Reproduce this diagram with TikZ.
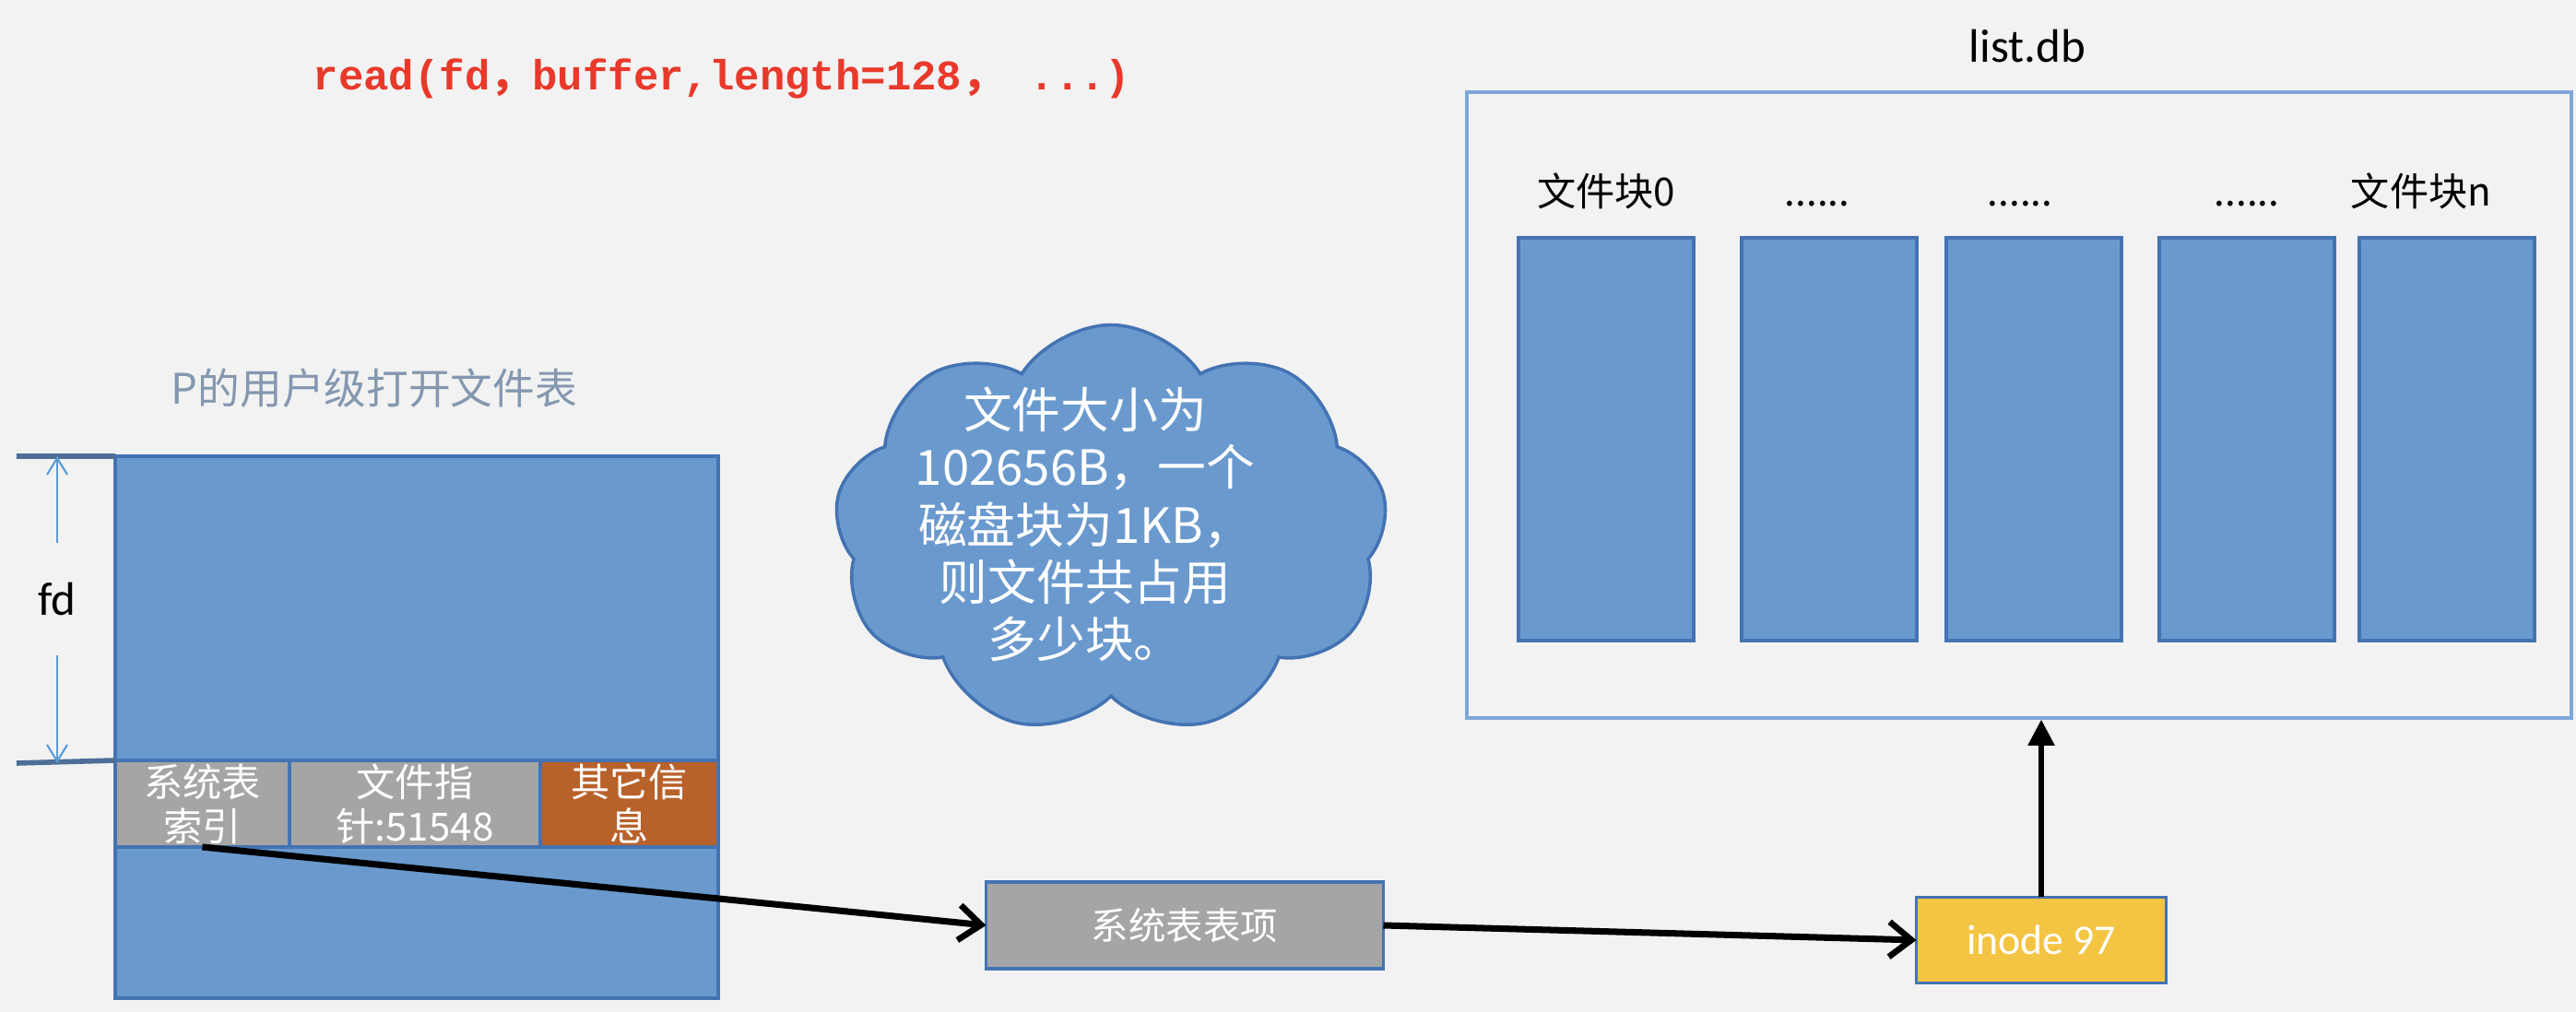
\documentclass[tikz,border=0pt]{standalone}
\usepackage{fontspec}
\setmainfont{Carlito}
\newfontfamily\cjk{Noto Sans CJK SC}
\newfontfamily\codefont{Liberation Mono}
\usetikzlibrary{arrows.meta, positioning, shapes.symbols, calc}

\definecolor{bgcol}{HTML}{F2F2F2}
\definecolor{blkfill}{HTML}{6A99CE}
\definecolor{blkdraw}{HTML}{4473B3}
\definecolor{cellgray}{HTML}{A5A5A5}
\definecolor{cellorange}{HTML}{B8612B}
\definecolor{inodegold}{HTML}{F4C443}
\definecolor{codered}{HTML}{E8392B}
\definecolor{ptitle}{HTML}{8497B0}
\definecolor{fdline}{HTML}{4D6E96}
\definecolor{dimblue}{HTML}{5B9BD5}
\definecolor{listdraw}{HTML}{7EA6D8}

\begin{document}
\begin{tikzpicture}[
  node distance=0.3cm and 0.4cm,
  blk/.style    ={draw=blkdraw, fill=blkfill, line width=1pt, inner sep=0pt, outer sep=0pt},
  fblock/.style ={blk, minimum width=1.9cm, minimum height=4.37cm},
  cell/.style   ={draw=blkdraw, line width=1pt, inner sep=0pt, outer sep=0pt,
                  minimum height=0.94cm, align=center, text=white,
                  font=\cjk\fontsize{12}{13.7}\selectfont},
  lbl/.style    ={font=\cjk\fontsize{12}{14}\selectfont, text height=1.6ex, text depth=0.3ex, inner sep=0pt},
  arr/.style    ={-{Straight Barb[length=2.4mm,width=3.8mm,line width=1.9pt]}, line width=2pt},
  uparr/.style  ={-{Triangle[length=2.8mm,width=2.8mm]}, line width=1.5pt},
  dimarr/.style ={-{Straight Barb[length=1.8mm,width=2.2mm]}, dimblue, line width=0.6pt},
  fdrule/.style ={fdline, line width=1.6pt},
]

\useasboundingbox[fill=bgcol] (0,0) rectangle (27.94,-10.98);

%% ---- Call ----
\node[font=\codefont\bfseries\fontsize{13}{15}\selectfont, text=codered] (call) at (7.83,-0.85)
  {read(fd{\cjk ，}buffer,length=128{\cjk ，} ...)};

%% ---- User open file table ----
\node[font=\cjk\fontsize{13}{15}\selectfont, text=ptitle] (ptbl) at (4.06,-4.21) {P的用户级打开文件表};
\node[blk, minimum width=6.54cm, minimum height=5.88cm] (ufile) at (4.52,-7.89) {};
\node[cell, fill=cellgray, minimum width=1.89cm, anchor=north west] (sysidx) at (1.25,-8.25) {系统表\\索引};
\node[cell, fill=cellgray, minimum width=2.72cm, right=0pt of sysidx] (fptr) {文件指\\针:51548};
\node[cell, fill=cellorange, minimum width=1.93cm, right=0pt of fptr] (other) {其它信\\息};

%% fd span
\coordinate (fdtop) at (0.18,-4.95);
\coordinate (fdbot) at (0.18,-8.28);
\draw[fdrule] (fdtop) -- (ufile.north west);
\draw[fdrule] (fdbot) -- (sysidx.north west);
\node[font=\fontsize{14.5}{16}\selectfont, minimum height=1.2cm, inner sep=0pt] (fd) at (0.62,-6.5) {fd};
\draw[dimarr] (fd.north) -- (fd.north |- fdtop);
\draw[dimarr] (fd.south) -- (fd.south |- fdbot);

%% ---- Cloud note ----
\node[cloud, cloud puffs=9, cloud puff arc=115, aspect=1.35, draw=blkdraw, fill=blkfill,
      line width=1pt, minimum width=6.0cm, minimum height=4.45cm] (cloud) at (12.05,-5.75) {};
\node[font=\cjk\fontsize{15}{17.7}\selectfont, text=white, align=center] (note)
  at ($(cloud.center)+(-0.28,0.06)$) {文件大小为\\102656B，一个\\磁盘块为1KB，\\则文件共占用\\多少块。};

%% ---- System table entry and inode ----
\node[blk, fill=cellgray, minimum width=4.31cm, minimum height=0.94cm, text=white,
      font=\cjk\fontsize{11.5}{13}\selectfont] (sysent) at (12.85,-10.04) {系统表表项};
\node[blk, fill=inodegold, minimum width=2.71cm, minimum height=0.93cm, text=white,
      font=\fontsize{13}{15}\selectfont] (inode) at (22.14,-10.2) {inode 97};

%% ---- list.db ----
\node[draw=listdraw, line width=1pt, minimum width=11.98cm, minimum height=6.79cm] (listbox) at (21.9,-4.395) {};
\node[font=\fontsize{14.5}{17}\selectfont] (listname) at (21.99,-0.5) {list.db};
\node[fblock] (b0) at (17.42,-4.765) {};
\node[fblock, right=0.52cm of b0] (b1) {};
\node[fblock, right=0.32cm of b1] (b2) {};
\node[fblock, right=0.41cm of b2] (b3) {};
\node[fblock, right=0.27cm of b3] (b4) {};
\node[lbl, above=0.29cm of b0] (l0) {文件块0};
\node[lbl, above=0.29cm of b1, xshift=-0.13cm] (l1) {......};
\node[lbl, above=0.29cm of b2, xshift=-0.15cm] (l2) {......};
\node[lbl, above=0.29cm of b3] (l3) {......};
\node[lbl, above=0.29cm of b4, xshift=-0.28cm] (l4) {文件块n};

%% ---- Arrows ----
\draw[arr] (sysidx.south) -- (sysent.west);
\draw[arr] (sysent.east) -- (inode.west);
\draw[uparr] (inode.north) -- (inode.north |- listbox.south);

\end{tikzpicture}
\end{document}
